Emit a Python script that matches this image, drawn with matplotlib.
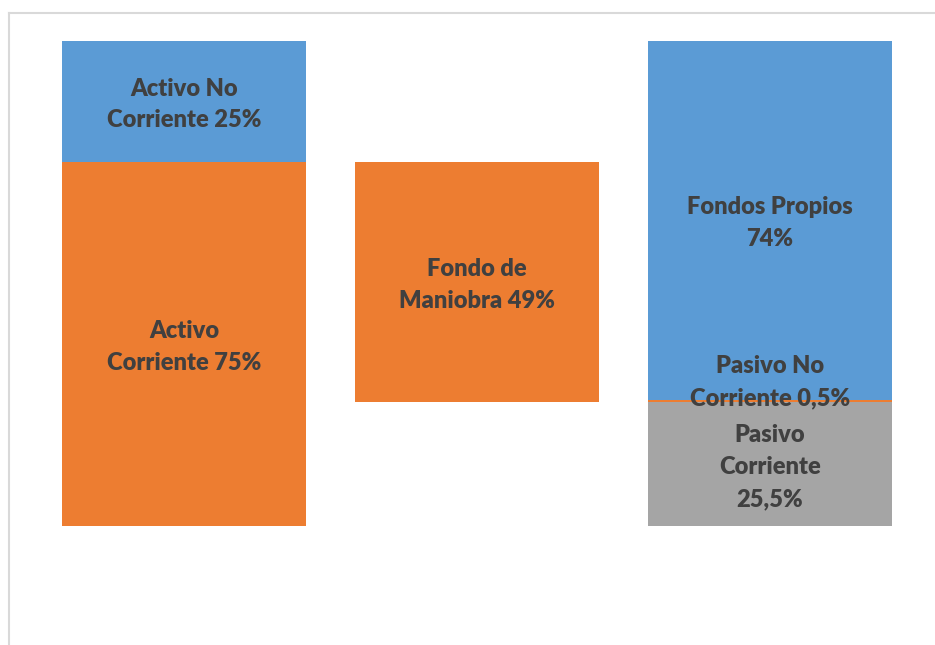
import matplotlib
matplotlib.use('Agg')
import matplotlib.pyplot as plt
from matplotlib.lines import Line2D

# stacked shares (%), one value per column: activo | fondo de maniobra | pasivo+FP
COLUMNS = ['Activo', 'Fondo de Maniobra', 'Pasivo']
BASE = [0, 25.5, 0]                       # invisible offset for the floating bar
GRAY_SEG = [0, 0, 25.5]                   # Pasivo Corriente
ORANGE_SEG = [75, 49.5, 0.5]              # Activo Corriente / Fondo de Maniobra / Pasivo No Corriente
BLUE_SEG = [25, 0, 74]                    # Activo No Corriente / Fondos Propios

LABELS = [
    # (column, segment bottom, segment value, text, shift)
    (0, 0, 75, 'Activo\nCorriente 75%', 0),
    (0, 75, 25, 'Activo No\nCorriente 25%', 0),
    (1, 25.5, 49.5, 'Fondo de\nManiobra 49%', 0),
    (2, 0, 25.5, 'Pasivo\nCorriente\n25,5%', 0),
    (2, 25.5, 0.5, 'Pasivo No\nCorriente 0,5%', 4.5),
    (2, 26, 74, 'Fondos Propios\n74%', 0),
]

BLUE = '#5B9BD5'
ORANGE = '#ED7D31'
GRAY = '#A5A5A5'
TXT = '#404040'

W, H = 935, 645
fig = plt.figure(figsize=(W / 100, H / 100), dpi=100)
ax = fig.add_axes([37.5 / W, (H - 526) / H, (916.5 - 37.5) / W, (526 - 41) / H])

x = range(len(COLUMNS))
wid = 0.833
b2 = [b + g for b, g in zip(BASE, GRAY_SEG)]
b3 = [b + o for b, o in zip(b2, ORANGE_SEG)]
ax.bar(x, GRAY_SEG, bottom=BASE, width=wid, color=GRAY)
ax.bar(x, ORANGE_SEG, bottom=b2, width=wid, color=ORANGE)
ax.bar(x, BLUE_SEG, bottom=b3, width=wid, color=BLUE)

for col, lo, val, txt, shift in LABELS:
    ax.text(col, lo + val / 2 + shift - 0.6, txt, ha='center', va='center',
            fontsize=17, fontweight='heavy', color=TXT, family='Lato',
            linespacing=1.55)

ax.set_xlim(-0.5, 2.5)
ax.set_ylim(0, 100)
ax.axis('off')

# chart-area frame (only top and left edges are visible in the crop)
fig.add_artist(Line2D([9 / W, 9 / W], [0, (H - 12.5) / H], color='#d9d9d9', lw=1.5))
fig.add_artist(Line2D([9 / W, 1], [(H - 12.5) / H] * 2, color='#d9d9d9', lw=1.5))

fig.savefig('out.png', dpi=100)
